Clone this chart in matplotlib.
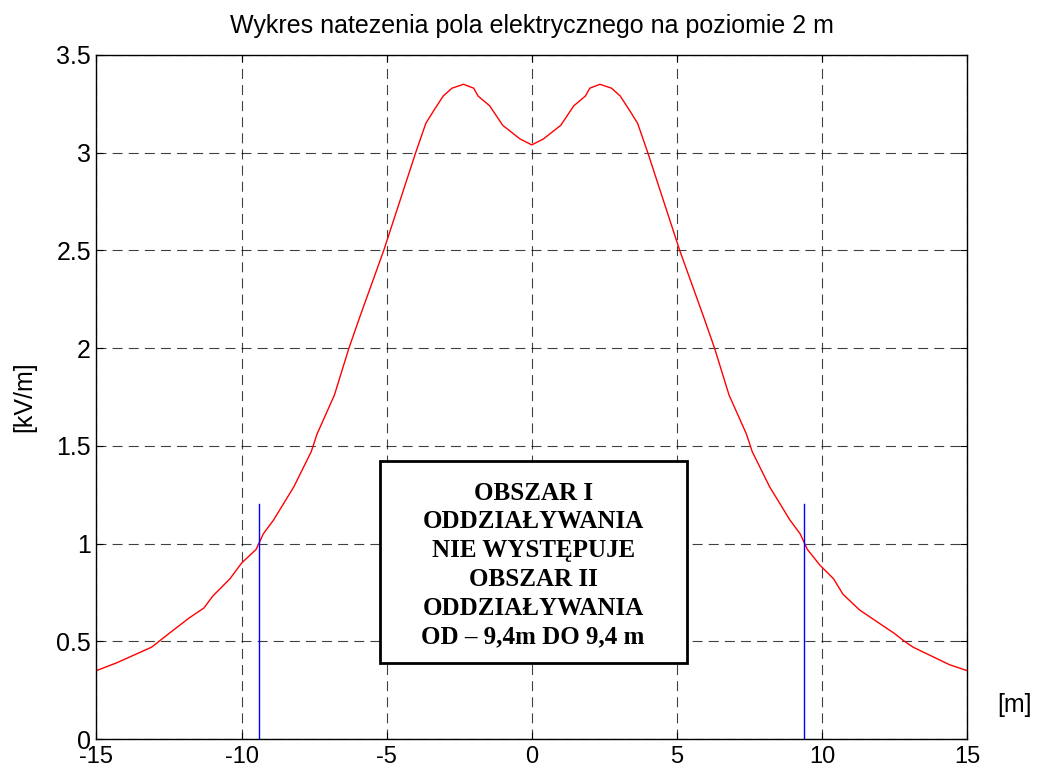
import matplotlib
matplotlib.use("Agg")
import matplotlib.pyplot as plt
from matplotlib.patches import Rectangle

# odczyt z wykresu: odleglosc od osi linii [m] i natezenie pola [kV/m]
x_m = [
    -15.0, -14.3, -13.7, -13.1, -12.5, -11.8, -11.3, -11.0, -10.4, -10.0,
    -9.5, -9.25, -8.9, -8.2, -7.6, -7.4, -6.8, -6.3, -5.9, -5.1,
    -4.55, -4.0, -3.65, -3.4, -3.05, -2.75, -2.35, -2.0, -1.85, -1.45,
    -1.0, -0.4, 0.0,
    0.4, 1.0, 1.45, 1.85, 2.0, 2.35, 2.75, 3.05, 3.4, 3.65,
    4.0, 4.55, 5.1, 5.9, 6.3, 6.8, 7.4, 7.6, 8.2, 8.9,
    9.25, 9.5, 9.93, 10.4, 10.73, 11.3, 11.8, 12.5, 12.8, 13.14,
    13.7, 14.4, 15.0,
]
e_kvm = [
    0.35, 0.39, 0.43, 0.47, 0.54, 0.62, 0.67, 0.73, 0.82, 0.90,
    0.97, 1.05, 1.12, 1.29, 1.47, 1.56, 1.76, 2.00, 2.17, 2.50,
    2.75, 3.00, 3.15, 3.21, 3.29, 3.33, 3.35, 3.33, 3.29, 3.24,
    3.14, 3.07, 3.04,
    3.07, 3.14, 3.24, 3.29, 3.33, 3.35, 3.33, 3.29, 3.21, 3.15,
    3.00, 2.75, 2.50, 2.17, 2.00, 1.76, 1.56, 1.47, 1.29, 1.12,
    1.05, 0.97, 0.89, 0.82, 0.74, 0.66, 0.61, 0.54, 0.505, 0.47,
    0.43, 0.38, 0.35,
]

# granice obszaru oddzialywania
limit_x = [-9.4, 9.4]
limit_top = 1.2

title = "Wykres natezenia pola elektrycznego na poziomie 2 m"
box_text = ("OBSZAR I\nODDZIAŁYWANIA\nNIE WYSTĘPUJE\n"
            "OBSZAR II\nODDZIAŁYWANIA\nOD – 9,4m DO 9,4 m")

plt.rcParams["font.family"] = ["Liberation Sans", "DejaVu Sans"]
plt.rcParams["axes.unicode_minus"] = False

fig = plt.figure(figsize=(10.42, 7.71), dpi=100)
ax = fig.add_axes([0.0926, 0.0415, 0.8354, 0.8872])

ax.plot(x_m, e_kvm, color="red", linewidth=1.0)
for xv in limit_x:
    ax.plot([xv, xv], [0, limit_top], color="blue", linewidth=1.0)

ax.set_xlim(-15, 15)
ax.set_ylim(0, 3.5)
ax.set_xticks(range(-15, 16, 5))
ax.set_yticks([0, 0.5, 1, 1.5, 2, 2.5, 3, 3.5])
ax.set_yticklabels(["0", "0.5", "1", "1.5", "2", "2.5", "3", "3.5"])
ax.tick_params(direction="in", top=True, right=True, length=5,
               labelsize=18)
ax.tick_params(axis="x", pad=5, labelsize=17)
ax.tick_params(axis="y", pad=4)
for lbl in ax.get_yticklabels():
    lbl.set_verticalalignment("center_baseline")
ax.grid(True, color="black", linestyle=(0, (9, 5.5)), linewidth=0.8,
        alpha=0.75)
for sp in ax.spines.values():
    sp.set_linewidth(1.0)

ax.set_title(title, fontsize=18, pad=16)
ax.set_ylabel("[kV/m]", fontsize=18, labelpad=14)
fig.text(0.974, 0.086, "[m]", fontsize=18, ha="center", va="center")

ax.add_patch(Rectangle((-5.23, 0.39), 10.57, 1.03, facecolor="white",
                       edgecolor="black", linewidth=2, zorder=5))
ax.text(0.05, 0.89, box_text, ha="center", va="center", fontsize=18,
        fontweight="bold", family="Liberation Serif", linespacing=1.32,
        zorder=6)

fig.savefig("out.png", dpi=100)
